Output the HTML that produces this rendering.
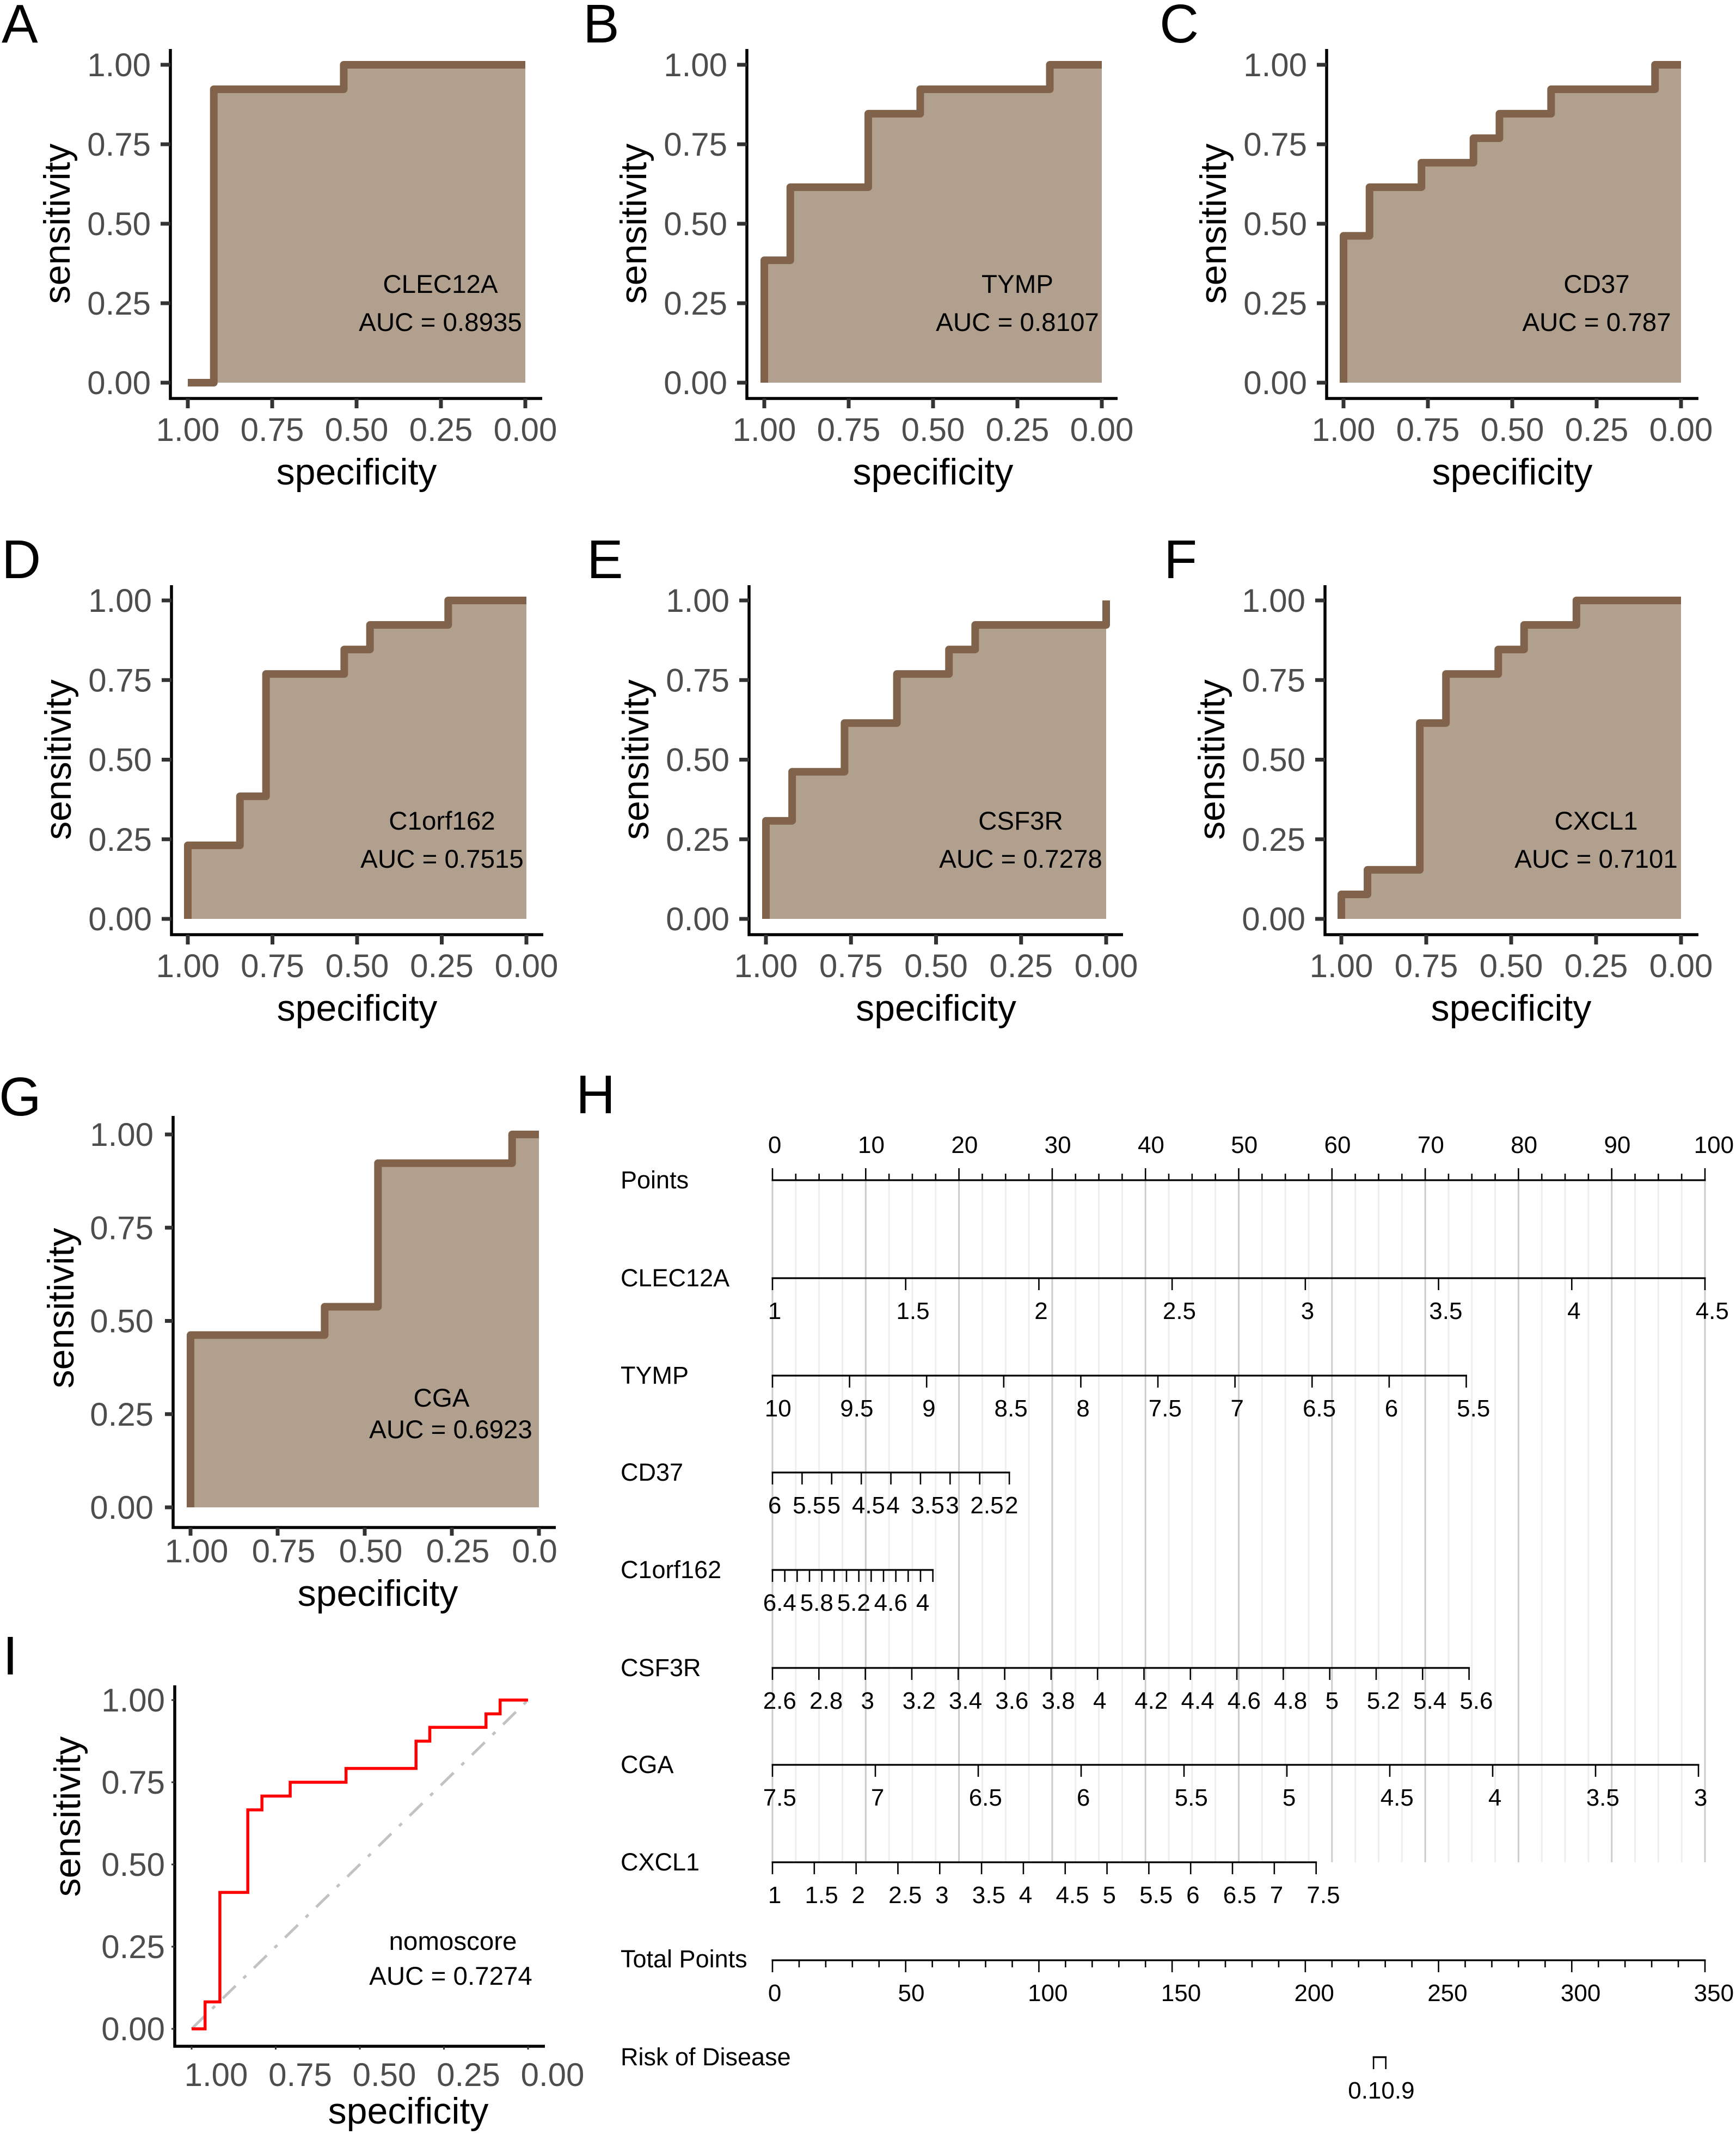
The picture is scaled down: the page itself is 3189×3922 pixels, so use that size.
<!DOCTYPE html>
<html lang="en">
<head>
<meta charset="utf-8">
<title>ROC curves and nomogram</title>
<style>
html,body{margin:0;padding:0;background:#fff;}
svg{display:block;}
text{font-family:"Liberation Sans",Arial,sans-serif;}
</style>
</head>
<body>
<svg id="figure" xmlns="http://www.w3.org/2000/svg" width="3189" height="3922" viewBox="0 0 3189 3922"></svg>
<script>
// ---------- ROC data (specificity at each step, sensitivity reached at that step) ----------
const specA = [1, 0.923, 0.538];
const sensA = [0, 0.923, 1];
const specB = [1, 0.923, 0.692, 0.538, 0.154];
const sensB = [0.385, 0.615, 0.846, 0.923, 1];
const specC = [1, 0.923, 0.769, 0.615, 0.538, 0.385, 0.077];
const sensC = [0.462, 0.615, 0.692, 0.769, 0.846, 0.923, 1];
const specD = [1, 0.846, 0.769, 0.538, 0.462, 0.231];
const sensD = [0.231, 0.385, 0.769, 0.846, 0.923, 1];
const specE = [1, 0.923, 0.769, 0.615, 0.462, 0.385, 0];
const sensE = [0.308, 0.462, 0.615, 0.769, 0.846, 0.923, 1];
const specF = [1, 0.923, 0.769, 0.692, 0.538, 0.462, 0.308];
const sensF = [0.077, 0.154, 0.615, 0.769, 0.846, 0.923, 1];
const specG = [1, 0.615, 0.462, 0.077];
const sensG = [0.462, 0.538, 0.923, 1];
const specI = [1, 0.96, 0.916, 0.833, 0.791, 0.707, 0.541, 0.333, 0.292, 0.125, 0.083];
const sensI = [0, 0.082, 0.415, 0.666, 0.708, 0.75, 0.792, 0.875, 0.917, 0.958, 1];
const rocTicks = [1, 0.75, 0.5, 0.25, 0];
const rocTickLabels = ["1.00", "0.75", "0.50", "0.25", "0.00"];
const rocYTicks = [0, 0.25, 0.5, 0.75, 1];
const rocYTickLabels = ["0.00", "0.25", "0.50", "0.75", "1.00"];

// ---------- Nomogram data ----------
const pointsMajor = [0,10,20,30,40,50,60,70,80,90,100];
const pointsMinor = [2.5,5,7.5,12.5,15,17.5,22.5,25,27.5,32.5,35,37.5,42.5,45,47.5,52.5,55,57.5,62.5,65,67.5,72.5,75,77.5,82.5,85,87.5,92.5,95,97.5];
const clec12aTicks = [1,1.5,2,2.5,3,3.5,4,4.5];
const tympTicks = [10,9.5,9,8.5,8,7.5,7,6.5,6,5.5];
const cd37Ticks = [6,5.5,5,4.5,4,3.5,3,2.5,2];
const c1orf162Ticks = [6.4,6.2,6,5.8,5.6,5.4,5.2,5,4.8,4.6,4.4,4.2,4,3.8];
const c1orf162Labels = [6.4,5.8,5.2,4.6,4];
const csf3rTicks = [2.6,2.8,3,3.2,3.4,3.6,3.8,4,4.2,4.4,4.6,4.8,5,5.2,5.4,5.6];
const cgaTicks = [7.5,7,6.5,6,5.5,5,4.5,4,3.5,3];
const cxcl1Ticks = [1,1.5,2,2.5,3,3.5,4,4.5,5,5.5,6,6.5,7,7.5];
const clec12aEndPoints = 100;
const tympEndPoints = 74.4;
const cd37EndPoints = 25.4;
const c1orf162EndPoints = 17.2;
const csf3rEndPoints = 74.7;
const cgaEndPoints = 99.3;
const cxcl1EndPoints = 58.3;
const totalMajor = [0,50,100,150,200,250,300,350];
const totalMinor = [10,20,30,40,60,70,80,90,110,120,130,140,160,170,180,190,210,220,230,240,260,270,280,290,310,320,330,340];
const riskValues = [0.1, 0.9];
const riskTotals = [225.6, 230.2];

// ---------- helpers ----------
const NS = "http://www.w3.org/2000/svg";
const root = document.getElementById("figure");
function mk(tag, attrs, parent) {
  const el = document.createElementNS(NS, tag);
  for (const k in attrs) el.setAttribute(k, attrs[k]);
  (parent || root).appendChild(el);
  return el;
}
function txt(str, x, y, size, fill, anchor, parent, rot) {
  const attrs = {x: x, y: y, "font-size": size, fill: fill, "text-anchor": anchor || "middle"};
  if (rot) attrs.transform = "rotate(" + rot + " " + x + " " + y + ")";
  const t = mk("text", attrs, parent);
  t.textContent = str;
  return t;
}
function line(x1, y1, x2, y2, stroke, w, parent) {
  return mk("line", {x1: x1, y1: y1, x2: x2, y2: y2, stroke: stroke, "stroke-width": w}, parent);
}

function stepPath(spec, sens, sx, sy) {
  let d = "M" + sx(1) + " " + sy(0);
  for (let i = 0; i < spec.length; i++) {
    const next = i + 1 < spec.length ? spec[i + 1] : 0;
    d += "L" + sx(spec[i]) + " " + sy(sens[i]) + "L" + sx(next) + " " + sy(sens[i]);
  }
  return d;
}

function drawRoc(p) {
  const g = mk("g", {});
  
  
  const sx = v => p.x0 + (p.x1 - p.x0) * v;
  const sy = v => p.y0 + (p.y1 - p.y0) * v;
  const d = stepPath(p.spec, p.sens, sx, sy);

  if (p.area) {
    const area = mk("path", {d: d + "L" + sx(0) + " " + sy(0) + "Z", fill: "#b2a08f"}, g);
    
    
  }
  if (p.diag) {
    const diag = line(sx(1), sy(0), sx(0), sy(1), "#c2c2c2", 5, g);
    diag.setAttribute("stroke-dasharray", "33 20 7 20");
    
    
  }
  const curve = mk("path", {d: d, fill: "none", stroke: p.color, "stroke-width": p.lw, "stroke-linejoin": p.area ? "round" : "miter"}, g);
  
  

  const yAxis = line(p.ax, p.top, p.ax, p.bottom + 2.5, "#000", 5.5, g);
  
  
  const xAxis = line(p.ax - 2.5, p.bottom, p.right, p.bottom, "#000", 5.5, g);
  
  

  rocYTicks.forEach((v, i) => {
    const tick = line(p.ax - p.tickLen, sy(v), p.ax, sy(v), "#333", p.tickW, g);
    
    
    const lab = txt(rocYTickLabels[i], p.yLabX, sy(v) + 21, 60, "#4d4d4d", "end", g);
    
    
  });
  rocTicks.forEach((v, i) => {
    const tick = line(sx(v), p.bottom, sx(v), p.bottom + p.tickLen, "#333", p.tickW, g);
    
    
    const s = p.lastLabel && i === rocTicks.length - 1 ? p.lastLabel : rocTickLabels[i];
    const lab = txt(s, sx(v) + p.xLabShift + (s.length < 4 ? -19 : 0), p.xLabY, 60, "#4d4d4d", "middle", g);
    
    
  });

  const xt = txt("specificity", p.xTitleX, p.xTitleY, 68, "#000", "middle", g);
  
  
  const yt = txt("sensitivity", p.yTitleX, p.yTitleY, 68, "#000", "middle", g, -90);
  
  

  const a1 = txt(p.gene, p.geneX, p.geneY, 47.5, "#000", "middle", g);
  
  
  const a2 = txt(p.auc, p.aucX, p.aucY, 47.5, "#000", "middle", g);
  
  

  const l = txt(p.key, p.letterX, p.letterY, 100, "#000", "start", g);
  
  
}

function base(o) {
  return Object.assign({area: true, color: "#80634a", lw: 14, tickLen: 18, tickW: 7,
    xLabShift: 0, yLabX: o.ax - 36, xLabY: o.bottom + 78,
    xTitleX: (o.x1 + o.x0) / 2, xTitleY: o.bottom + 158,
    yTitleX: o.ax - 185, yTitleY: (o.y0 + o.y1) / 2}, o);
}

drawRoc(base({key: "A", spec: specA, sens: sensA, gene: "CLEC12A", auc: "AUC = 0.8935",
  ax: 313, top: 90, bottom: 732, right: 996, x1: 345, x0: 965, y1: 119, y0: 703,
  geneX: 809, geneY: 538, aucX: 809, aucY: 608, letterX: 3, letterY: 78}));
drawRoc(base({key: "B", spec: specB, sens: sensB, gene: "TYMP", auc: "AUC = 0.8107",
  ax: 1372, top: 90, bottom: 732, right: 2053, x1: 1404, x0: 2024, y1: 119, y0: 703,
  geneX: 1869, geneY: 538, aucX: 1869, aucY: 608, letterX: 1071, letterY: 78}));
drawRoc(base({key: "C", spec: specC, sens: sensC, gene: "CD37", auc: "AUC = 0.787",
  ax: 2437, top: 90, bottom: 732, right: 3120, x1: 2468, x0: 3088, y1: 119, y0: 703,
  geneX: 2933, geneY: 538, aucX: 2933, aucY: 608, letterX: 2130, letterY: 78}));
drawRoc(base({key: "D", spec: specD, sens: sensD, gene: "C1orf162", auc: "AUC = 0.7515",
  ax: 315, top: 1075, bottom: 1717, right: 998, x1: 345, x0: 967, y1: 1103, y0: 1688,
  geneX: 812, geneY: 1524, aucX: 812, aucY: 1594, letterX: 3, letterY: 1062}));
drawRoc(base({key: "E", spec: specE, sens: sensE, gene: "CSF3R", auc: "AUC = 0.7278",
  ax: 1376, top: 1075, bottom: 1717, right: 2063, x1: 1407, x0: 2032, y1: 1103, y0: 1688,
  geneX: 1875, geneY: 1524, aucX: 1875, aucY: 1594, letterX: 1078, letterY: 1062}));
drawRoc(base({key: "F", spec: specF, sens: sensF, gene: "CXCL1", auc: "AUC = 0.7101",
  ax: 2434, top: 1075, bottom: 1717, right: 3120, x1: 2464, x0: 3088, y1: 1103, y0: 1688,
  geneX: 2932, geneY: 1524, aucX: 2932, aucY: 1594, letterX: 2138, letterY: 1062}));
drawRoc(base({key: "G", spec: specG, sens: sensG, gene: "CGA", auc: "AUC = 0.6923",
  ax: 318, top: 2050, bottom: 2806, right: 1021, x1: 350, x0: 990, y1: 2084, y0: 2769,
  geneX: 811, geneY: 2584, aucX: 828, aucY: 2642, letterX: -2, letterY: 2049,
  tickLen: 15, lastLabel: "0.0", xLabShift: 11, xLabY: 2870, xTitleX: 694, xTitleY: 2950, yTitleX: 135, yTitleY: 2403}));
drawRoc(base({key: "I", spec: specI, sens: sensI, gene: "nomoscore", auc: "AUC = 0.7274",
  area: false, diag: true, color: "#ff0000", lw: 5.5, tickLen: 6, tickW: 3,
  ax: 321, top: 3096, bottom: 3759, right: 1001, x1: 352, x0: 970, y1: 3123, y0: 3727,
  xLabShift: 45, yLabX: 303, xLabY: 3832,
  geneX: 832, geneY: 3582, aucX: 828, aucY: 3646, letterX: 5, letterY: 3076,
  xTitleX: 750, xTitleY: 3901, yTitleX: 147, yTitleY: 3337}));

// ---------- Nomogram ----------
const nomo = mk("g", {});


const px = pts => 1419 + 17.13 * pts;
const rowTop = 2168, rowBottom = 3421;
const NOMO_SIZE = 44;

pointsMinor.forEach(v => {
  const gl = line(px(v), rowTop, px(v), rowBottom, "#eeeeee", 3, nomo);
  
  
});
pointsMajor.forEach(v => {
  const gl = line(px(v), rowTop, px(v), rowBottom, "#cccccc", 3, nomo);
  
  
});

function labelWidth(s) {
  let w = 0;
  for (const c of s) w += (c === "." ? 0.278 : 0.556) * NOMO_SIZE;
  return w;
}
function nomoLabel(s, x, y, parent) {
  const t = txt(s, x + 0.25 * labelWidth(s) - 2, y, NOMO_SIZE, "#000", "middle", parent);
  
  
}
function rowName(s, y, parent) {
  const t = txt(s, 1140, y, 45, "#000", "start", parent);
  
  
}
function rowAxis(name, y, ticks, endPts, labels) {
  const g = mk("g", {}, nomo);
  
  
  rowName(name, y + 15, g);
  const first = ticks[0], last = ticks[ticks.length - 1];
  const sp = v => px((v - first) / (last - first) * endPts);
  const ax = line(sp(first) - 1.5, y, sp(last) + 1.5, y, "#000", 3.2, g);
  
  
  ticks.forEach(v => {
    const t = line(sp(v), y, sp(v), y + 22, "#000", 2.6, g);
    
    
  });
  (labels || ticks).forEach(v => nomoLabel(String(v), sp(v), y + 75, g));
}

// Points row (ticks upward, labels above)
(function () {
  const y = 2168;
  const g = mk("g", {}, nomo);
  
  
  rowName("Points", y + 15, g);
  const ax = line(px(0) - 1.5, y, px(100) + 1.5, y, "#000", 3.2, g);
  
  
  pointsMinor.forEach(v => {
    const t = line(px(v), y, px(v), y - 12, "#000", 2.6, g);
    
    
  });
  pointsMajor.forEach(v => {
    const t = line(px(v), y, px(v), y - 22, "#000", 2.6, g);
    
    
    nomoLabel(String(v), px(v), y - 50, g);
  });
})();

rowAxis("CLEC12A", 2348, clec12aTicks, clec12aEndPoints);
rowAxis("TYMP", 2527, tympTicks, tympEndPoints);
rowAxis("CD37", 2705, cd37Ticks, cd37EndPoints);
rowAxis("C1orf162", 2884, c1orf162Ticks, c1orf162EndPoints, c1orf162Labels);
rowAxis("CSF3R", 3064, csf3rTicks, csf3rEndPoints);
rowAxis("CGA", 3242, cgaTicks, cgaEndPoints);
rowAxis("CXCL1", 3421, cxcl1Ticks, cxcl1EndPoints);

// Total Points row
(function () {
  const y = 3601;
  const g = mk("g", {}, nomo);
  
  
  rowName("Total Points", y + 13, g);
  const sp = v => px(v / 350 * 100);
  const ax = line(sp(0) - 1.5, y, sp(350) + 1.5, y, "#000", 3.2, g);
  
  
  totalMinor.forEach(v => {
    const t = line(sp(v), y, sp(v), y + 13, "#000", 2.6, g);
    
    
  });
  totalMajor.forEach(v => {
    const t = line(sp(v), y, sp(v), y + 22, "#000", 2.6, g);
    
    
    nomoLabel(String(v), sp(v), y + 75, g);
  });
})();

// Risk row
(function () {
  const y = 3779;
  const g = mk("g", {}, nomo);
  
  
  rowName("Risk of Disease", y + 15, g);
  const sp = v => px(v / 350 * 100);
  const ax = line(sp(riskTotals[0]) - 1.5, y, sp(riskTotals[1]) + 1.5, y, "#000", 3.2, g);
  
  
  riskTotals.forEach(v => {
    const t = line(sp(v), y, sp(v), y + 22, "#000", 2.6, g);
    
    
  });
  const mid = (sp(riskTotals[0]) + sp(riskTotals[1])) / 2 + 3;
  const l0 = txt(String(riskValues[0]), mid, y + 76, NOMO_SIZE, "#000", "end", g);
  
  
  const l1 = txt(String(riskValues[1]), mid, y + 76, NOMO_SIZE, "#000", "start", g);
  
  
})();

const hLetter = txt("H", 1058, 2045, 100, "#000", "start", nomo);


</script>
</body>
</html>
